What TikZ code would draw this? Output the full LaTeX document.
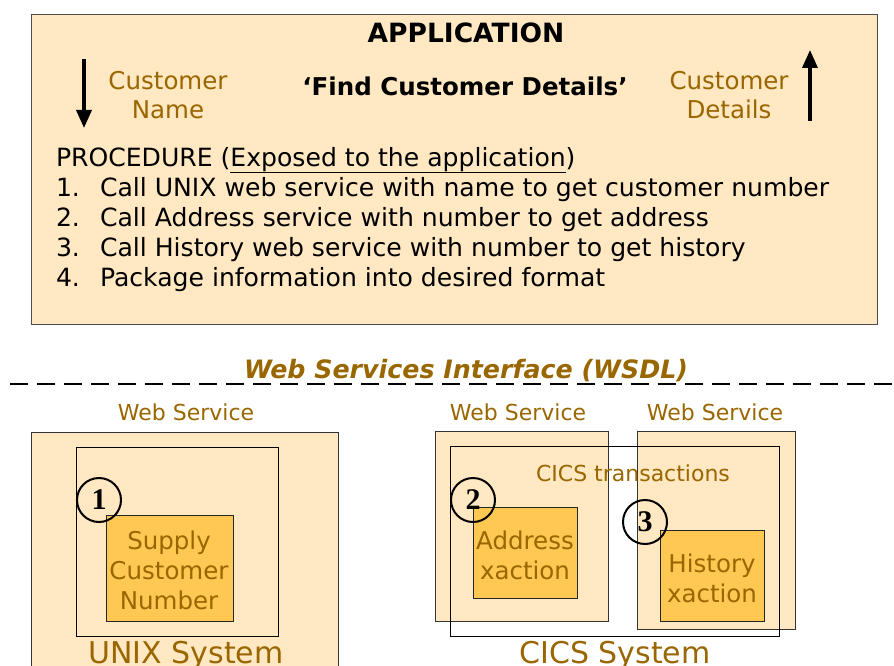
\documentclass[tikz,border=0pt]{standalone}
\usepackage{fontspec}
\setmainfont{DejaVu Sans}
\newfontfamily\numfont{Liberation Serif}
\usetikzlibrary{arrows.meta}
\definecolor{peach}{RGB}{255,232,194}
\definecolor{gold}{RGB}{255,200,82}
\definecolor{brown}{RGB}{153,102,0}
\begin{document}
\begin{tikzpicture}[x=1pt,y=-1pt,
  txt/.style={anchor=base,inner sep=0pt,outer sep=0pt},
  brn/.style={txt,text=brown},
  f25/.style={font=\fontsize{24.5}{29}\selectfont},
  fl/.style={font=\fontsize{25.1}{30}\selectfont},
  f22/.style={font=\fontsize{22}{26}\selectfont},
  f30/.style={font=\fontsize{30}{36}\selectfont},
  pbox/.style={draw=black!80,fill=peach,line width=1pt},
  gbox/.style={draw=black!85,fill=gold,line width=1pt},
  obox/.style={draw=black,line width=1pt},
  numc/.style={draw=black,line width=2pt,circle,minimum size=44pt,inner sep=0pt,
    font=\numfont\bfseries\fontsize{30}{34}\selectfont},
  bigarrow/.style={line width=3.5pt,-{Triangle[length=18pt,width=15pt]}}
]
\useasboundingbox (0,0) rectangle (894,666);
% application box
\node[pbox,draw=black!70,minimum width=846pt,minimum height=310pt,anchor=north west,inner sep=0pt] (app) at (31,14) {};
\node[txt,font=\bfseries\fontsize{26.5}{31}\selectfont] (apptitle) at (466,43) {APPLICATION};
\coordinate (dnA) at (84,59);
\coordinate (dnB) at (84,128);
\draw[bigarrow] (dnA) -- (dnB);
\coordinate (upA) at (810,121);
\coordinate (upB) at (810,50);
\draw[bigarrow] (upA) -- (upB);
\node[brn,f25] (cn1) at (168,90) {Customer};
\node[brn,f25] (cn2) at (168,119) {Name};
\node[txt,font=\bfseries\fontsize{24.5}{29}\selectfont] (find) at (465,96) {‘Find Customer Details’};
\node[brn,f25] (cd1) at (729,90) {Customer};
\node[brn,f25] (cd2) at (729,119) {Details};
\node[txt,fl,anchor=base west] (proc) at (56,166) {PROCEDURE (\underline{Exposed to the application})};
\node[txt,fl,anchor=base west] (n1) at (56,196) {1.};
\node[txt,fl,anchor=base west] (n2) at (56,226) {2.};
\node[txt,fl,anchor=base west] (n3) at (56,256) {3.};
\node[txt,fl,anchor=base west] (n4) at (56,286) {4.};
\node[txt,fl,anchor=base west] (l1) at (100,196) {Call UNIX web service with name to get customer number};
\node[txt,fl,anchor=base west] (l2) at (100,226) {Call Address service with number to get address};
\node[txt,fl,anchor=base west] (l3) at (100,256) {Call History web service with number to get history};
\node[txt,fl,anchor=base west] (l4) at (100,286) {Package information into desired format};
% WSDL
\node[brn,font=\bfseries\itshape\fontsize{25.3}{30}\selectfont] (wsdl) at (466,378) {Web Services Interface (WSDL)};
\coordinate (dashA) at (10,384);
\coordinate (dashB) at (894,384);
\draw[line width=2.8pt,dash pattern=on 18pt off 9pt] (dashA) -- (dashB);
% UNIX side
\node[brn,f22] (ws1) at (186,420) {Web Service};
\node[pbox,minimum width=307pt,minimum height=250pt,anchor=north west,inner sep=0pt] (unixouter) at (31,432) {};
\node[obox,minimum width=202pt,minimum height=189pt,anchor=north west,inner sep=0pt] (unixinner) at (76,447) {};
\node[gbox,minimum width=127pt,minimum height=106pt,anchor=north west,inner sep=0pt] (supply) at (106,515) {};
\node[numc] (c1) at (99,500) {1};
\node[brn,f25] (s1) at (169,549) {Supply};
\node[brn,f25] (s2) at (169,579) {Customer};
\node[brn,f25] (s3) at (169,609) {Number};
\node[brn,f30] (unixsys) at (186,663) {UNIX System};
% CICS side
\node[brn,f22] (ws2) at (518,420) {Web Service};
\node[brn,f22] (ws3) at (715,420) {Web Service};
\node[pbox,minimum width=173pt,minimum height=190pt,anchor=north west,inner sep=0pt] (wsb1) at (435,431) {};
\node[pbox,minimum width=158pt,minimum height=198pt,anchor=north west,inner sep=0pt] (wsb2) at (637,431) {};
\node[obox,minimum width=329pt,minimum height=190pt,anchor=north west,inner sep=0pt] (cics) at (450,446) {};
\node[brn,f22] (ctrans) at (633,481) {CICS transactions};
\node[gbox,minimum width=104pt,minimum height=91pt,anchor=north west,inner sep=0pt] (addr) at (473,507) {};
\node[gbox,minimum width=104pt,minimum height=91pt,anchor=north west,inner sep=0pt] (hist) at (660,530) {};
\node[numc] (c2) at (473,500) {2};
\node[numc] (c3) at (645,522) {3};
\node[brn,f25] (a1) at (525,549) {Address};
\node[brn,f25] (a2) at (525,579) {xaction};
\node[brn,f25] (h1) at (712,572) {History};
\node[brn,f25] (h2) at (712,602) {xaction};
\node[brn,f30] (cicssys) at (615,663) {CICS System};
\end{tikzpicture}
\end{document}
